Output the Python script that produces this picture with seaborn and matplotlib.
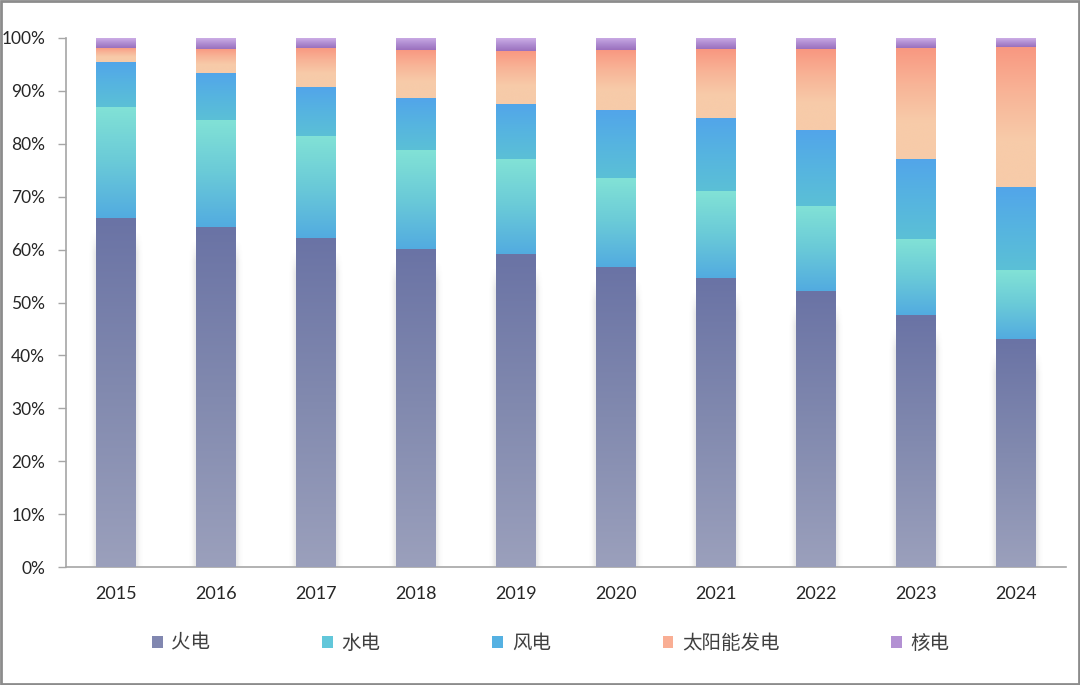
import numpy as np
import pandas as pd
import matplotlib.pyplot as plt
import seaborn as sns
from matplotlib.colors import LinearSegmentedColormap
from matplotlib.patches import Patch, Rectangle

# Data (share of generation, %)
years = ['2015', '2016', '2017', '2018', '2019', '2020', '2021', '2022', '2023', '2024']
thermal = [65.9, 64.2, 62.2, 60.2, 59.2, 56.7, 54.6, 52.2, 47.6, 43.1]
hydro = [21.0, 20.3, 19.3, 18.6, 17.9, 16.8, 16.4, 16.1, 14.4, 13.0]
wind = [8.6, 8.9, 9.2, 9.8, 10.4, 12.8, 13.9, 14.3, 15.2, 15.7]
solar = [2.7, 4.6, 7.5, 9.1, 10.1, 11.4, 13.0, 15.3, 21.0, 26.5]
nuclear = [1.8, 2.0, 1.8, 2.3, 2.4, 2.3, 2.1, 2.1, 1.8, 1.7]
labels = ['火电', '水电', '风电', '太阳能发电', '核电']

series = [thermal, hydro, wind, solar, nuclear]
# gradient stops, top -> bottom
grads = [
    ['#6a73a5', '#828aaf', '#9ba0bc'],
    ['#82e2d6', '#6acad8', '#52abe0'],
    ['#52a5ea', '#56b4e0', '#5bc0d6'],
    ['#f99780', '#f8b497', '#f7cba9', '#f7cba9'],
    ['#cdaee6', '#b08dd2', '#9a70bd'],
]
legend_cols = ['#8187b0', '#62c7da', '#55b1e2', '#f9ae94', '#b391d3']

df = pd.DataFrame({'year': years})
cum = np.zeros(len(years))
cums = []
for s in series:
    lo = cum.copy()
    cum = cum + np.array(s)
    cums.append((lo, cum.copy()))

sns.set_style('white')
plt.rcParams['font.family'] = ['Lato', 'Noto Sans CJK SC', 'DejaVu Sans']

fig = plt.figure(figsize=(10.8, 6.85), dpi=100)
ax = fig.add_axes([66 / 1080, 1 - 567 / 685, 1000 / 1080, 529 / 685])

# stacked bars: draw cumulative totals from the top layer down
layer_patches = {}
for i in range(len(series) - 1, -1, -1):
    df['h'] = cums[i][1]
    n0 = len(ax.patches)
    sns.barplot(data=df, x='year', y='h', color=grads[i][-1], width=0.4,
                saturation=1, ax=ax, linewidth=0)
    layer_patches[i] = ax.patches[n0:]

# gradient fill for every segment
for i in range(len(series)):
    cmap = LinearSegmentedColormap.from_list('g%d' % i, grads[i])
    grad = np.linspace(0, 1, 256).reshape(-1, 1)
    lo, hi = cums[i]
    for j, p in enumerate(layer_patches[i]):
        x0 = p.get_x()
        x1 = x0 + p.get_width()
        ax.imshow(grad, cmap=cmap, extent=[x0, x1, lo[j], hi[j]],
                  aspect='auto', origin='upper', zorder=3, interpolation='bicubic')

# soft shadow around the lower (thermal) segment
pad = 0.1
for j, p in enumerate(layer_patches[0]):
    x0 = p.get_x()
    x1 = x0 + p.get_width()
    top = cums[0][1][j] - 2.5
    xs = np.linspace(x0 - pad, x1 + pad, 120)
    ys = np.linspace(top, 0, 200)
    dx = np.clip(np.maximum(x0 - xs, xs - x1), 0, None) / pad
    ax_alpha = np.exp(-(dx * 2.6) ** 2) * 0.16
    ay = np.clip((top - ys) / 4.0, 0, 1)
    alpha = ay[:, None] * ax_alpha[None, :]
    img = np.zeros((len(ys), len(xs), 4))
    img[..., :3] = 0.45
    img[..., 3] = alpha
    ax.imshow(img, extent=[x0 - pad, x1 + pad, 0, top], aspect='auto',
              origin='upper', zorder=2, interpolation='bilinear')

ax.set_xlim(-0.5, len(years) - 0.5)
ax.set_ylim(0, 100)
ax.set_yticks(np.arange(0, 101, 10))
ax.set_yticklabels(['%d%%' % v for v in range(0, 101, 10)])
ax.set_xticks(range(len(years)))
ax.set_xticklabels(years)
ax.set_xticks(np.arange(-0.5, len(years), 1), minor=True)
ax.tick_params(axis='x', which='major', length=0, pad=14, labelsize=13, labelcolor='#262626')
ax.tick_params(axis='x', which='minor', length=7, width=1, color='#a6a6a6', direction='out')
ax.tick_params(axis='y', length=6, width=1, color='#a6a6a6', labelsize=12.5,
               labelcolor='#262626', pad=9, left=True)
ax.set_xlabel('')
ax.set_ylabel('')
sns.despine(ax=ax, top=True, right=True)
for side in ['left', 'bottom']:
    ax.spines[side].set_color('#a6a6a6')
    ax.spines[side].set_linewidth(1.2)

handles = [Patch(facecolor=c, edgecolor='none') for c in legend_cols]
leg = fig.legend(handles, labels, loc='center', bbox_to_anchor=(0.510, 0.061),
                 ncol=5, frameon=False, handlelength=0.55, handleheight=0.55,
                 handletextpad=0.45, columnspacing=5.75,
                 prop={'family': ['Noto Sans CJK SC', 'DejaVu Sans'], 'size': 14})
for t in leg.get_texts():
    t.set_color('#404040')

fig.add_artist(Rectangle((0.001, 0.001), 0.998, 0.997, transform=fig.transFigure,
                         fill=False, edgecolor='#8c8c8c', linewidth=2))

fig.savefig('out.png', dpi=100)
